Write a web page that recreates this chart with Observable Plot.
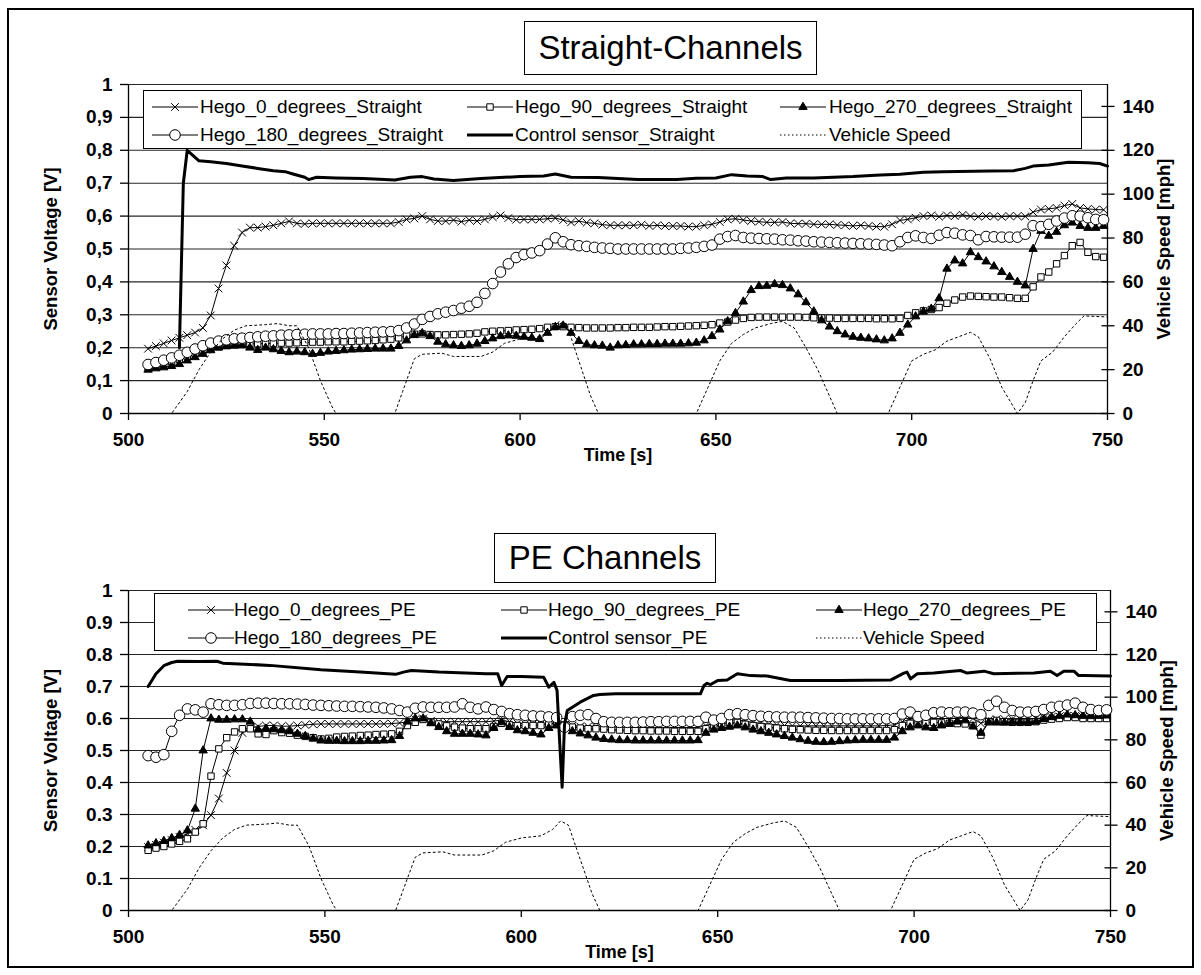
<!DOCTYPE html>
<html>
<head>
<meta charset="utf-8">
<script src="https://cdn.jsdelivr.net/npm/d3@7"></script>
<script src="https://cdn.jsdelivr.net/npm/@observablehq/plot@0.6"></script>
<style>
  body { margin: 0; background: #fff; font-family: "Liberation Sans", Arial, sans-serif; }
  #page { position: relative; width: 1201px; height: 975px; overflow: hidden; background: #fff; }
  #page > svg { position: absolute; left: 0; }
  .frame { position: absolute; left: 7px; top: 8px; width: 1187px; height: 960px; border: 2px solid #000; box-sizing: border-box; z-index: 5; pointer-events: none; }
  .title { position: absolute; border: 1.5px solid #000; background: #fff; font-size: 33px; display: flex; align-items: center; justify-content: center; box-sizing: border-box; z-index: 3; white-space: nowrap; }
  .legend { position: absolute; border: 1.5px solid #000; background: #fff; box-sizing: border-box; z-index: 3; }
  .lsample { position: absolute; z-index: 4; }
  .ltext { position: absolute; z-index: 4; font-size: 19px; line-height: 22px; white-space: nowrap; }
</style>
</head>
<body>
<div id="page"></div>
<script>
// ---------- data ----------
const timeGrid = [
  505,507,509,511,513,515,517,519,521,523,
  525,527,529,531,533,535,537,539,541,543,
  545,547,549,551,553,555,557,559,561,563,
  565,567,569,571,573,575,577,579,581,583,
  585,587,589,591,593,595,597,599,601,603,
  605,607,609,611,613,615,617,619,621,623,
  625,627,629,631,633,635,637,639,641,643,
  645,647,649,651,653,655,657,659,661,663,
  665,667,669,671,673,675,677,679,681,683,
  685,687,689,691,693,695,697,699,701,703,
  705,707,709,711,713,715,717,719,721,723,
  725,727,729,731,733,735,737,739,741,743,
  745,747,749];

// Straight channels (V)
const hego0Straight = [
  .197,.205,.213,.222,.23,.238,.246,.26,.298,.38,
  .45,.51,.55,.565,.565,.568,.572,.578,.584,.578,
  .576,.578,.578,.578,.578,.578,.578,.578,.578,.578,
  .578,.578,.582,.59,.593,.6,.59,.585,.585,.588,
  .583,.588,.585,.59,.597,.602,.594,.589,.59,.59,
  .59,.592,.594,.588,.581,.585,.58,.578,.574,.572,
  .572,.572,.572,.574,.57,.572,.57,.57,.57,.568,
  .568,.572,.575,.582,.59,.592,.588,.585,.583,.581,
  .581,.582,.578,.577,.577,.575,.575,.575,.573,.572,
  .57,.572,.57,.568,.568,.575,.587,.59,.595,.6,
  .602,.598,.602,.6,.604,.6,.598,.6,.599,.598,
  .6,.6,.599,.612,.62,.622,.625,.632,.637,.625,
  .622,.62,.619];
const hego90Straight = [
  .14,.145,.15,.157,.165,.173,.182,.19,.198,.203,
  .207,.21,.211,.212,.212,.213,.213,.214,.214,.215,
  .216,.217,.217,.218,.218,.218,.219,.22,.221,.222,
  .224,.226,.23,.236,.241,.242,.24,.239,.239,.24,
  .241,.242,.244,.248,.25,.251,.252,.254,.255,.256,
  .258,.262,.264,.264,.262,.261,.26,.26,.26,.26,
  .261,.261,.262,.262,.262,.263,.264,.264,.265,.266,
  .267,.268,.27,.275,.278,.284,.289,.292,.293,.293,
  .293,.293,.293,.293,.292,.291,.29,.29,.289,.289,
  .289,.289,.289,.288,.288,.288,.289,.298,.306,.312,
  .316,.322,.335,.345,.354,.357,.356,.355,.354,.354,
  .352,.35,.35,.385,.415,.43,.455,.48,.51,.52,
  .49,.477,.475];
const hego270Straight = [
  .133,.137,.14,.144,.15,.161,.171,.181,.192,.2,
  .204,.206,.207,.2,.193,.2,.195,.19,.186,.188,
  .186,.181,.184,.188,.19,.192,.194,.195,.196,.197,
  .197,.197,.205,.222,.238,.244,.235,.218,.21,.207,
  .205,.207,.212,.22,.228,.235,.237,.236,.233,.23,
  .226,.245,.263,.267,.245,.22,.21,.207,.206,.2,
  .207,.208,.21,.21,.211,.211,.212,.212,.212,.213,
  .215,.222,.235,.255,.28,.305,.34,.375,.387,.388,
  .393,.39,.38,.362,.338,.31,.283,.264,.25,.24,
  .233,.23,.228,.225,.222,.228,.245,.27,.295,.31,
  .318,.35,.44,.465,.456,.49,.475,.462,.447,.43,
  .415,.4,.389,.5,.555,.54,.552,.572,.58,.57,
  .564,.564,.57];
const hego180Straight = [
  .149,.155,.162,.169,.177,.186,.196,.206,.214,.22,
  .224,.227,.229,.231,.233,.235,.236,.238,.239,.24,
  .241,.242,.242,.242,.243,.243,.244,.245,.246,.247,
  .248,.249,.252,.26,.272,.286,.295,.303,.308,.313,
  .32,.326,.338,.365,.395,.43,.455,.474,.483,.488,
  .495,.515,.534,.522,.513,.51,.508,.505,.503,.502,
  .5,.5,.5,.5,.5,.5,.5,.5,.502,.503,
  .505,.508,.512,.53,.538,.541,.535,.533,.532,.531,
  .53,.528,.527,.525,.524,.522,.521,.52,.519,.518,
  .517,.516,.515,.514,.512,.51,.522,.535,.54,.535,
  .532,.542,.55,.548,.543,.541,.528,.538,.537,.536,
  .536,.536,.545,.571,.568,.575,.585,.594,.601,.6,
  .595,.59,.589];
const controlStraightTime = [513,514,515,518,521,525,529,533,537,540,542,545,546,548,553,560,568,572,575,578,583,590,596,600,606,609,613,620,630,640,645,650,654,658,662,664,668,675,685,692,697,703,708,720,726,729,731,735,740,745,748,750];
const controlStraightV = [0.2,0.7,0.8,0.768,0.765,0.76,0.752,0.745,0.738,0.735,0.728,0.718,0.711,0.718,0.716,0.714,0.71,0.718,0.72,0.713,0.708,0.714,0.718,0.72,0.722,0.728,0.718,0.717,0.711,0.711,0.715,0.716,0.726,0.722,0.72,0.711,0.716,0.716,0.72,0.725,0.727,0.733,0.735,0.737,0.738,0.745,0.752,0.755,0.764,0.762,0.76,0.752];

// PE channels (V)
const hego0PE = [
  .198,.205,.212,.22,.23,.24,.252,.266,.298,.35,
  .43,.5,.555,.57,.575,.578,.578,.576,.576,.578,
  .58,.582,.583,.583,.583,.583,.583,.583,.583,.583,
  .583,.584,.586,.59,.597,.6,.593,.59,.59,.59,
  .59,.59,.59,.59,.592,.595,.59,.585,.583,.583,
  .583,.583,.585,.58,.578,.575,.575,.575,.574,.573,
  .573,.572,.572,.572,.572,.572,.572,.572,.572,.572,
  .572,.578,.585,.59,.595,.596,.592,.588,.585,.582,
  .58,.578,.577,.577,.577,.577,.577,.577,.577,.577,
  .577,.577,.577,.577,.578,.58,.59,.598,.6,.598,
  .598,.6,.6,.602,.604,.6,.585,.595,.598,.598,
  .598,.598,.6,.6,.602,.605,.606,.608,.608,.605,
  .604,.603,.603];
const hego90PE = [
  .188,.195,.2,.208,.216,.224,.245,.271,.42,.505,
  .54,.558,.568,.568,.552,.55,.562,.556,.554,.548,
  .544,.54,.536,.538,.542,.544,.545,.547,.548,.55,
  .551,.552,.56,.578,.588,.597,.588,.583,.577,.573,
  .57,.568,.568,.568,.575,.585,.58,.578,.578,.578,
  .578,.583,.588,.58,.573,.57,.568,.568,.567,.565,
  .564,.563,.562,.562,.561,.561,.561,.56,.56,.56,
  .56,.568,.575,.582,.588,.588,.582,.578,.575,.573,
  .57,.568,.566,.565,.564,.563,.563,.5625,.5625,.5625,
  .5625,.5625,.5625,.5625,.5625,.565,.578,.585,.587,.588,
  .588,.586,.585,.584,.583,.578,.548,.59,.594,.59,
  .588,.588,.588,.59,.595,.598,.6,.603,.603,.6,
  .6,.6,.6];
const hego270PE = [
  .203,.21,.217,.226,.236,.25,.318,.5,.6,.596,
  .596,.597,.597,.59,.565,.568,.566,.563,.56,.552,
  .545,.537,.531,.53,.53,.529,.529,.529,.53,.53,
  .531,.532,.545,.59,.6,.6,.585,.573,.56,.552,
  .552,.552,.55,.547,.57,.588,.573,.563,.56,.555,
  .55,.57,.578,.57,.56,.553,.547,.54,.536,.534,
  .532,.532,.531,.531,.531,.531,.531,.531,.531,.531,
  .532,.555,.565,.57,.574,.578,.572,.565,.56,.555,
  .55,.545,.54,.535,.53,.527,.526,.527,.529,.531,
  .532,.533,.533,.533,.533,.54,.56,.572,.578,.572,
  .57,.578,.583,.59,.594,.575,.555,.588,.587,.587,
  .588,.588,.588,.59,.598,.604,.608,.612,.61,.608,
  .607,.608,.609];
const hego180PE = [
  .484,.479,.487,.56,.61,.63,.627,.62,.646,.643,
  .641,.641,.643,.647,.648,.648,.647,.646,.646,.645,
  .644,.642,.641,.64,.639,.638,.638,.637,.636,.635,
  .633,.63,.625,.62,.632,.636,.635,.635,.635,.636,
  .646,.635,.63,.636,.628,.622,.615,.612,.61,.608,
  .607,.605,.603,.573,.606,.61,.612,.6,.59,.588,
  .588,.588,.588,.589,.59,.59,.591,.591,.591,.591,
  .591,.604,.595,.6,.612,.615,.612,.609,.607,.606,
  .605,.604,.604,.604,.603,.602,.601,.6,.6,.599,
  .599,.599,.599,.599,.599,.6,.614,.62,.606,.61,
  .618,.62,.618,.62,.62,.617,.612,.641,.654,.635,
  .625,.62,.62,.622,.628,.635,.638,.642,.648,.635,
  .628,.625,.627];
const controlPETime = [505,507,509,511,512.5,518,522.5,524,536,549,559,568,570,572,579,591,594,595,596.4,600,605.7,607,608.3,609.1,609.8,610.4,611,611.7,615,618.4,620,624,645.6,646.5,647.3,648.2,650,652.4,655,658.4,662.6,668.5,681,694,697.4,698.2,699.1,700.8,705,711.8,713.5,717.8,720.3,730.5,734.7,736.4,738.1,740.7,741.9,743.2,750];
const controlPEV = [0.7,0.74,0.765,0.775,0.779,0.778,0.779,0.773,0.766,0.752,0.745,0.738,0.745,0.75,0.745,0.74,0.74,0.703,0.731,0.731,0.729,0.698,0.713,0.688,0.52,0.385,0.58,0.625,0.651,0.672,0.675,0.677,0.677,0.703,0.71,0.706,0.719,0.72,0.74,0.734,0.733,0.719,0.719,0.72,0.742,0.745,0.724,0.74,0.742,0.75,0.742,0.748,0.74,0.742,0.748,0.734,0.748,0.748,0.734,0.734,0.733];

// Vehicle speed (mph), same drive cycle in both charts
const speedTime = [505,511,515,518,521,524,527,530,535,538,541,543,546,549,552,553,568,570,573,575,580,583,590,593,596,600,605,608,610,612,615,618,620,645,648,651,654,657,660,664,667,670,673,676,679,681,694,697,700,703,706,709,712,715,717,720,723,726,727,729,731,733,736,739,742,744,750];
const speedMph = [0,0,10,20,28,34,38,40,40.5,41,40,40,30,15,3,0,0,10,25,27,27.5,26,26,28,32,34,35,38,42,40,24,8,0,0,12,24,32,36,39,41,42,39,30,20,8,0,0,12,24,27,29,33,35,37,35,25,12,3,0,5,15,24,28,35,41,44.5,44];

// axes
const timeTicks = [500,550,600,650,700,750];
const voltTicks = [0,0.1,0.2,0.3,0.4,0.5,0.6,0.7,0.8,0.9,1];
const mphTicks = [0,20,40,60,80,100,120,140];
const mphMax = 150;

const titles = ["Straight-Channels", "PE Channels"];
const legendStraight = ["Hego_0_degrees_Straight","Hego_90_degrees_Straight","Hego_270_degrees_Straight","Hego_180_degrees_Straight","Control sensor_Straight","Vehicle Speed"];
const legendPE = ["Hego_0_degrees_PE","Hego_90_degrees_PE","Hego_270_degrees_PE","Hego_180_degrees_PE","Control sensor_PE","Vehicle Speed"];
const legendKinds = ["times","square","triangle","circle","control","speed"];

// ---------- drawing ----------
const page = document.getElementById("page");
const FONT = "Liberation Sans, Arial, sans-serif";
const markerR = {times: 3.6, square: 3.6, triangle: 3.1, circle: 5.3};

function hegoMarks(data, kind) {
  const fill = kind === "circle" || kind === "square" ? "#fff" : (kind === "triangle" ? "#000" : "none");
  return [
    Plot.line(data, {x: "t", y: "v", stroke: "#000", strokeWidth: 1}),
    Plot.dot(data, {x: "t", y: "v", symbol: kind, r: markerR[kind], stroke: "#000", strokeWidth: 1, fill})
  ];
}

function drawPanel(cfg) {
  const mk = arr => timeGrid.map((t, i) => ({t, v: arr[i]}));
  const ctrl = cfg.ctrlT.map((t, i) => ({t, v: cfg.ctrlV[i]}));
  const speed = speedTime.map((t, i) => ({t, mph: speedMph[i]}));
  const fmtV = d => (d === 0 || d === 1) ? String(d) : d.toFixed(1).replace(".", cfg.dec);
  const mphPos = mphTicks.map(d => d / mphMax);
  const svg = Plot.plot({
    width: 1201, height: cfg.height,
    marginLeft: 128, marginRight: cfg.mr, marginTop: cfg.mt, marginBottom: cfg.mb,
    x: {domain: [500, 750]},
    y: {domain: [0, 1]},
    style: {fontFamily: FONT, fontSize: "19px", fontWeight: "bold", color: "#000", background: "transparent", overflow: "visible"},
    marks: [
      Plot.gridY(voltTicks.filter(d => d > 0), {stroke: "#000", strokeOpacity: 0.85, strokeWidth: 1.1}),
      Plot.ruleY([0], {stroke: "#000", strokeWidth: 1.3}),
      Plot.ruleX([500, 750], {stroke: "#000", strokeWidth: 1.3}),
      Plot.axisY({ticks: voltTicks, tickFormat: fmtV, tickSize: 8, tickPadding: 8, label: null, strokeWidth: 1.3}),
      Plot.axisY({anchor: "right", ticks: mphPos, tickSize: 13, dx: -6.5, tickFormat: () => "", label: null, strokeWidth: 1.3}),
      Plot.axisY({anchor: "right", ticks: mphPos, tickSize: 0, tickPadding: 15, tickFormat: d => String(Math.round(d * mphMax)), label: null, textAnchor: "start"}),
      Plot.axisX({ticks: timeTicks, tickSize: 7, tickPadding: 12, label: null, strokeWidth: 1.3}),
      Plot.text(["Time [s]"], {frameAnchor: "bottom", dy: 42, fontSize: 18, fontWeight: "bold", textAnchor: "middle", lineAnchor: "middle"}),
      Plot.text(["Sensor Voltage [V]"], {frameAnchor: "left", dx: -77, rotate: -90, fontSize: 18.5, fontWeight: "bold", textAnchor: "middle", lineAnchor: "middle"}),
      Plot.text(["Vehicle Speed [mph]"], {frameAnchor: "right", dx: 57, rotate: -90, fontSize: 18.5, fontWeight: "bold", textAnchor: "middle", lineAnchor: "middle"}),
      ...hegoMarks(mk(cfg.s0), "times"),
      ...hegoMarks(mk(cfg.s90), "square"),
      ...hegoMarks(mk(cfg.s270), "triangle"),
      ...hegoMarks(mk(cfg.s180), "circle"),
      Plot.line(ctrl, {x: "t", y: "v", stroke: "#000", strokeWidth: 3, strokeLinejoin: "round"}),
      Plot.line(speed, {x: "t", y: d => d.mph / mphMax, stroke: "#000", strokeWidth: 1, strokeDasharray: "2,3"})
    ]
  });
  svg.style.top = cfg.top + "px";
  page.appendChild(svg);
}

function sampleSvg(kind) {
  const s = d3.create("svg").attr("width", 46).attr("height", 18).attr("overflow", "visible");
  const line = s.append("line").attr("x1", 0).attr("x2", 46).attr("y1", 9).attr("y2", 9).attr("stroke", "#000");
  if (kind === "control") line.attr("stroke-width", 3);
  else if (kind === "speed") line.attr("stroke-width", 1).attr("stroke-dasharray", "1.5,2.5");
  else {
    line.attr("stroke-width", 1);
    const symMap = {times: d3.symbolTimes, square: d3.symbolSquare, triangle: d3.symbolTriangle, circle: d3.symbolCircle};
    const r = markerR[kind];
    const fill = kind === "circle" || kind === "square" ? "#fff" : (kind === "triangle" ? "#000" : "none");
    s.append("path").attr("transform", "translate(23,9)")
      .attr("d", d3.symbol(symMap[kind], Math.PI * r * r)())
      .attr("fill", fill).attr("stroke", "#000").attr("stroke-width", 1);
  }
  return s.node();
}

function addBox(cls, x, y, w, h, text) {
  const d = document.createElement("div");
  d.className = cls;
  Object.assign(d.style, {left: x + "px", top: y + "px", width: w + "px", height: h + "px"});
  if (text) d.textContent = text;
  page.appendChild(d);
}

function drawLegend(labels, box, sampleX, textX, rowsY) {
  addBox("legend", box[0], box[1], box[2], box[3]);
  labels.forEach((lab, i) => {
    const col = i % 3, row = Math.floor(i / 3);
    const sv = sampleSvg(legendKinds[i]);
    sv.setAttribute("class", "lsample");
    sv.style.left = sampleX[col] + "px";
    sv.style.top = (rowsY[row] - 9) + "px";
    page.appendChild(sv);
    const t = document.createElement("div");
    t.className = "ltext";
    t.textContent = lab;
    t.style.left = textX[col] + "px";
    t.style.top = (rowsY[row] - 11) + "px";
    page.appendChild(t);
  });
}

drawPanel({top: 0, height: 480, mt: 84, mb: 67, mr: 94, dec: ",",
  s0: hego0Straight, s90: hego90Straight, s270: hego270Straight, s180: hego180Straight,
  ctrlT: controlStraightTime, ctrlV: controlStraightV});
drawPanel({top: 500, height: 475, mt: 90, mb: 65, mr: 91, dec: ".",
  s0: hego0PE, s90: hego90PE, s270: hego270PE, s180: hego180PE,
  ctrlT: controlPETime, ctrlV: controlPEV});

addBox("title", 524, 21, 293, 54, titles[0]);
addBox("title", 494, 533, 222, 50, titles[1]);
drawLegend(legendStraight, [143, 90, 939, 59], [152, 467, 780], [200, 515, 829], [107, 135]);
drawLegend(legendPE, [154, 593, 943, 58], [188, 501, 816], [234, 548, 863], [610, 638]);
addBox("frame", 7, 8, 1187, 960);
</script>
</body>
</html>
